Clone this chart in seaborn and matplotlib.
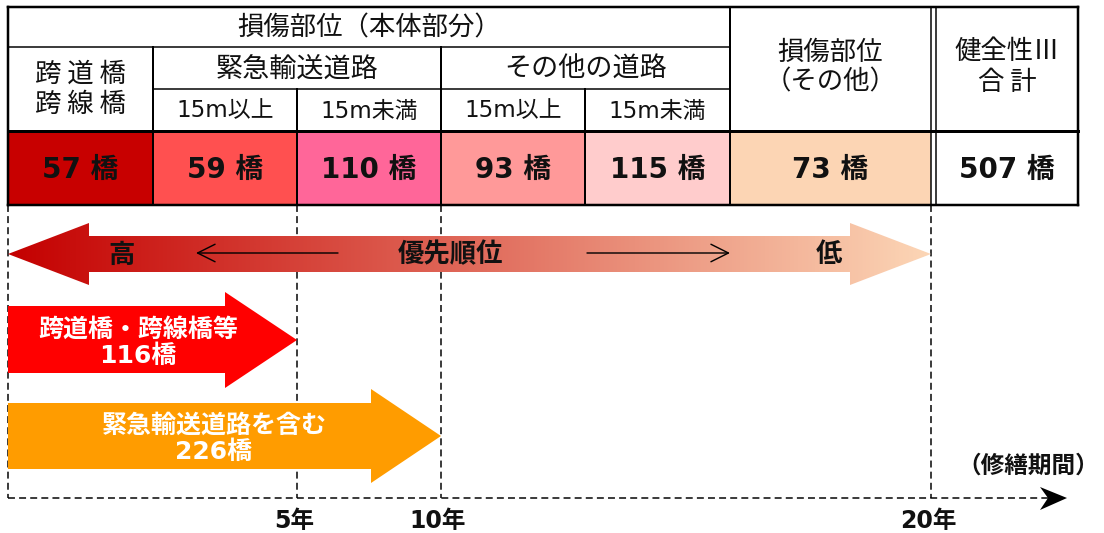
import numpy as np
import matplotlib
matplotlib.use("Agg")
import matplotlib.pyplot as plt
from matplotlib.patches import Rectangle, Polygon
from matplotlib.colors import LinearSegmentedColormap
import seaborn as sns

# ---------------- data ----------------
group_header = "損傷部位（本体部分）"
sub_groups = ["緊急輸送道路", "その他の道路"]
span_labels = ["15m以上", "15m未満", "15m以上", "15m未満"]
first_col_label = "跨 道 橋\n跨 線 橋"
other_label = "損傷部位\n（その他）"
total_label = "健全性Ⅲ\n合 計"
counts = [57, 59, 110, 93, 115, 73]
total = 507
cell_colors = ["#C80000", "#FF5050", "#FF6699", "#FF9999", "#FFCCCC", "#FCD5B4"]
period_labels = ["5年", "10年", "20年"]
period_cols = [2, 3, 6]          # table column edge where each period ends
plan_names = ["跨道橋・跨線橋等", "緊急輸送道路を含む"]
plan_counts = [116, 226]
plan_periods = [0, 1]            # index into period_labels
plan_colors = ["#FF0000", "#FF9C00"]
priority_labels = ["高", "優先順位", "低"]
axis_label = "（修繕期間）"

# ---------------- layout (pixel units) ----------------
W, H = 1104, 533
col_edges = [8, 153, 297, 441, 585, 730, 931]
total_edges = (936, 1078)
row_edges = [7, 47, 89, 131, 205]
axis_y = 498

sns.set_theme(style="white")
plt.rcParams["font.family"] = ["Noto Sans CJK JP", "DejaVu Sans"]
plt.rcParams["lines.scale_dashes"] = False
WIDE = ["DejaVu Sans", "Noto Sans CJK JP"]   # wide Latin digits, CJK from Noto

fig = plt.figure(figsize=(W / 100, H / 100), dpi=100)
ax = fig.add_axes([0, 0, 1, 1])
ax.set_xlim(0, W)
ax.set_ylim(H, 0)
ax.axis("off")

PX = 0.72  # one pixel in points

# ---- value cells ----
y0, y1 = row_edges[3], row_edges[4]
val = dict(ha="center", va="center", fontsize=20, fontweight="bold", color="#111111",
           family=WIDE, zorder=3)
for i, (n, c) in enumerate(zip(counts, cell_colors)):
    x0, x1 = col_edges[i], col_edges[i + 1]
    ax.add_patch(Rectangle((x0, y0), x1 - x0, y1 - y0, facecolor=c, edgecolor="none", zorder=1))
    ax.text((x0 + x1) / 2, (y0 + y1) / 2 + 2, f"{n} 橋", **val)
ax.text(sum(total_edges) / 2, (y0 + y1) / 2 + 2, f"{total} 橋", **val)

# ---- header texts ----
hdr = dict(ha="center", va="center", color="#111111", zorder=3)
ax.text((col_edges[0] + col_edges[5]) / 2, (row_edges[0] + row_edges[1]) / 2 + 1,
        group_header, fontsize=19, **hdr)
ax.text((col_edges[0] + col_edges[1]) / 2, (row_edges[1] + row_edges[3]) / 2,
        first_col_label, fontsize=19, linespacing=1.15, **hdr)
ax.text((col_edges[1] + col_edges[3]) / 2, (row_edges[1] + row_edges[2]) / 2 + 1,
        sub_groups[0], fontsize=19.5, **hdr)
ax.text((col_edges[3] + col_edges[5]) / 2, (row_edges[1] + row_edges[2]) / 2 + 1,
        sub_groups[1], fontsize=19.5, **hdr)
for i, lab in enumerate(span_labels):
    ax.text((col_edges[i + 1] + col_edges[i + 2]) / 2, (row_edges[2] + row_edges[3]) / 2 + 1,
            lab, fontsize=16.5, family=WIDE, **hdr)
ax.text((col_edges[5] + col_edges[6]) / 2, (row_edges[0] + row_edges[3]) / 2 - 2,
        other_label, fontsize=19, linespacing=1.15, **hdr)
ax.text(sum(total_edges) / 2, (row_edges[0] + row_edges[3]) / 2 - 2,
        total_label, fontsize=19, linespacing=1.15, **hdr)

# ---- table grid ----
def hline(y, xa, xb, lw):
    ax.plot([xa, xb], [y, y], color="black", lw=lw * PX, solid_capstyle="projecting", zorder=4)

def vline(x, ya, yb, lw):
    ax.plot([x, x], [ya, yb], color="black", lw=lw * PX, solid_capstyle="projecting", zorder=4)

hline(row_edges[0], col_edges[0], total_edges[1], 2.5)
hline(row_edges[4], col_edges[0], total_edges[1], 2.5)
hline(row_edges[1], col_edges[0], col_edges[5], 1.5)
hline(row_edges[2], col_edges[1], col_edges[5], 1.5)
hline(row_edges[3], col_edges[0], total_edges[1], 3)
vline(col_edges[0], row_edges[0], row_edges[4], 2.5)
vline(total_edges[1], row_edges[0], row_edges[4], 2.5)
vline(col_edges[1], row_edges[1], row_edges[4], 2)
vline(col_edges[2], row_edges[2], row_edges[4], 2)
vline(col_edges[3], row_edges[1], row_edges[4], 2)
vline(col_edges[4], row_edges[2], row_edges[4], 2)
vline(col_edges[5], row_edges[0], row_edges[4], 2)
vline(col_edges[6], row_edges[0], row_edges[4], 1.5)
vline(total_edges[0], row_edges[0], row_edges[4], 1.5)

# ---- dashed period guides and time axis ----
dash = dict(color="black", lw=1.5 * PX, dashes=(5, 3), zorder=0)
ax.plot([col_edges[0], col_edges[0]], [row_edges[4], axis_y], **dash)
for c in period_cols:
    ax.plot([col_edges[c], col_edges[c]], [row_edges[4], axis_y], **dash)
ax.plot([col_edges[0], 1052], [axis_y, axis_y], **dash)
ax.add_patch(Polygon([(1040, 487), (1067, axis_y), (1040, 510), (1048, axis_y)],
                     closed=True, facecolor="black", edgecolor="none", zorder=2))
for lab, c in zip(period_labels, period_cols):
    ax.text(col_edges[c] - 3, 521, lab, ha="center", va="center", fontsize=17,
            fontweight="bold", color="#111111", family=WIDE)
ax.text(1028, 466, axis_label, ha="center", va="center", fontsize=17,
        fontweight="bold", color="#111111")

# ---- priority arrow with gradient ----
xl, xr = col_edges[0], col_edges[6]
cy, hw, sh = 254, 31, 18
hl = 81
pts = [(xl, cy), (xl + hl, cy - hw), (xl + hl, cy - sh), (xr - hl, cy - sh), (xr - hl, cy - hw),
       (xr, cy), (xr - hl, cy + hw), (xr - hl, cy + sh), (xl + hl, cy + sh), (xl + hl, cy + hw)]
poly = Polygon(pts, closed=True, facecolor="none", edgecolor="none", zorder=2)
ax.add_patch(poly)
grad_cmap = LinearSegmentedColormap.from_list("prio", ["#C40000", "#E0695A", "#FCD6B6"])
grad = np.linspace(0, 1, 512).reshape(1, -1)
im = ax.imshow(grad, cmap=grad_cmap, extent=[xl, xr, cy + hw, cy - hw], aspect="auto",
               interpolation="bilinear", zorder=2)
im.set_clip_path(poly)
ax.set_xlim(0, W)
ax.set_ylim(H, 0)

prio = dict(ha="center", va="center", fontsize=19, fontweight="bold", color="#111111", zorder=3)
ax.text(122, cy + 1, priority_labels[0], **prio)
ax.text(450, cy + 1, priority_labels[1], **prio)
ax.text(829, cy + 1, priority_labels[2], **prio)
thin = dict(arrowstyle="->,head_length=0.9,head_width=0.45", lw=1.4 * PX, color="black",
            mutation_scale=14, shrinkA=0, shrinkB=0)
ax.annotate("", xy=(196, cy - 1), xytext=(338, cy - 1), arrowprops=thin, zorder=3)
ax.annotate("", xy=(730, cy - 1), xytext=(587, cy - 1), arrowprops=thin, zorder=3)

# ---- plan arrows ----
plan_geo = [(306, 373, 292, 388), (403, 469, 389, 483)]
plan_text_x = [138, 214]
for name, n, p, color, (st, sb, ht, hb), tx in zip(plan_names, plan_counts, plan_periods,
                                                    plan_colors, plan_geo, plan_text_x):
    tip = col_edges[period_cols[p]]
    head_len = 72 if p == 0 else 70
    mid = (ht + hb) / 2
    shape = [(col_edges[0], st), (tip - head_len, st), (tip - head_len, ht), (tip, mid),
             (tip - head_len, hb), (tip - head_len, sb), (col_edges[0], sb)]
    ax.add_patch(Polygon(shape, closed=True, facecolor=color, edgecolor="none", zorder=2))
    ax.text(tx, (st + sb) / 2 + 3, f"{name}\n{n}橋", ha="center", va="center", fontsize=18,
            fontweight="bold", color="white", linespacing=1.12, family=WIDE, zorder=3)

fig.savefig("out.png", dpi=100, facecolor="white")
